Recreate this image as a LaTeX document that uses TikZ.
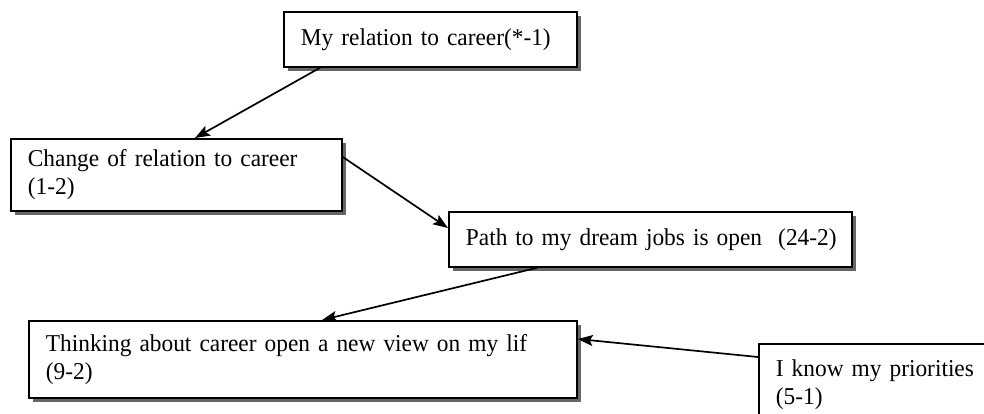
\documentclass[tikz,border=0pt]{standalone}
\usepackage{fontspec}
\setmainfont[FakeStretch=0.965]{Liberation Serif}
\usetikzlibrary{shadows,arrows.meta}
\begin{document}
\begin{tikzpicture}[x=1pt,y=-1pt,
  box/.style={draw=black, line width=1.8pt, fill=white, anchor=north west,
    inner xsep=17pt, inner ysep=0pt, align=left,
    font=\fontsize{24.2}{28}\selectfont,
    drop shadow={shadow xshift=4.5pt, shadow yshift=-4.5pt, fill=black!60, opacity=1}},
  conn/.style={line width=1.7pt, -{Stealth[length=15pt,width=11pt,inset=3pt]}}]
\useasboundingbox (0,0) rectangle (984,413);
\clip (0,0) rectangle (984,413);
\node[box, text width=259pt, minimum height=55pt] (b1) at (283,11) {\mbox{My relation to career(*-1)}};
\node[box, text width=297pt, minimum height=72pt] (b2) at (10,138) {\mbox{Change of relation to career}\\\mbox{(1-2)}};
\node[box, text width=369pt, minimum height=55pt] (b3) at (448,211) {\mbox{Path to my dream jobs is open\ \ (24-2)}};
\node[box, text width=514pt, minimum height=77pt] (b4) at (28,320) {\mbox{Thinking about career open a new view on my lif}\\\mbox{(9-2)}};
\node[box, text width=240pt, minimum height=82pt] (b5) at (758,343) {\mbox{I know my priorities}\\\mbox{(5-1)}};
\draw[conn] ([xshift=37pt]b1.south west) -- ([xshift=185pt]b2.north west);
\draw[conn] ([yshift=-19pt]b2.north east) -- ([yshift=-17pt]b3.north west);
\draw[conn] ([xshift=89pt]b3.south west) -- ([xshift=294pt]b4.north west);
\draw[conn] ([yshift=-14pt]b5.north west) -- ([yshift=-19pt]b4.north east);
\end{tikzpicture}
\end{document}
